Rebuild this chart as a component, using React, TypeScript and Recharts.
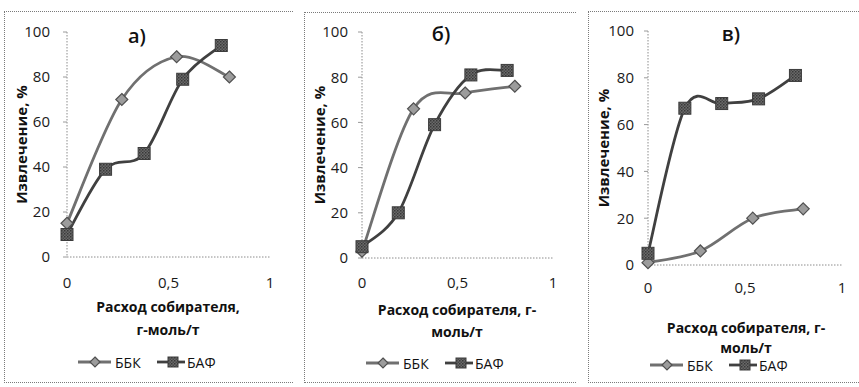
import React from 'react';
import { LineChart, Line, XAxis, YAxis } from 'recharts';

// Collector dosage, g-mol/t
const dosageBBK = [0, 0.27, 0.54, 0.8];
const dosageBAF = [0, 0.19, 0.38, 0.57, 0.76];

// Recovery, % — panel а)
const recoveryBBK_a = [15, 70, 89, 80];
const recoveryBAF_a = [10, 39, 46, 79, 94];
// panel б)
const recoveryBBK_b = [3, 66, 73, 76];
const recoveryBAF_b = [5, 20, 59, 81, 83];
// panel в)
const recoveryBBK_c = [1, 6, 20, 24];
const recoveryBAF_c = [5, 67, 69, 71, 81];

const xTicks = [0, 0.5, 1];
const yTicks = [0, 20, 40, 60, 80, 100];
const seriesNames = ['ББК', 'БАФ'];
const panelTitles = ['а)', 'б)', 'в)'];
const yTitle = 'Извлечение, %';
const xTitles: string[][] = [
  ['Расход собирателя,', 'г-моль/т'],
  ['Расход собирателя, г-', 'моль/т'],
  ['Расход собирателя, г-', 'моль/т'],
];

const FONT = '"Open Sans", "Liberation Sans", sans-serif';
const BBK_LINE = '#707070';
const BAF_LINE = '#404040';

const toPoints = (xs: number[], ys: number[]) => xs.map((x, i) => ({ x, y: ys[i] }));
const fmtX = (v: number) => String(v).replace('.', ',');

// Office-style smoothed line: cubic Bézier through every point,
// control handles taken from the neighbouring points (Catmull–Rom, 1/6).
const smoothCurve: any = (context: any) => {
  let pts: number[][] = [];
  return {
    areaStart() {},
    areaEnd() {},
    lineStart() {
      pts = [];
    },
    point(x: number, y: number) {
      pts.push([+x, +y]);
    },
    lineEnd() {
      const n = pts.length;
      if (!n) return;
      context.moveTo(pts[0][0], pts[0][1]);
      for (let i = 0; i < n - 1; i++) {
        const p0 = pts[i - 1] || pts[i];
        const p1 = pts[i];
        const p2 = pts[i + 1];
        const p3 = pts[i + 2] || pts[i + 1];
        context.bezierCurveTo(
          p1[0] + (p2[0] - p0[0]) / 6,
          p1[1] + (p2[1] - p0[1]) / 6,
          p2[0] - (p3[0] - p1[0]) / 6,
          p2[1] - (p3[1] - p1[1]) / 6,
          p2[0],
          p2[1]
        );
      }
    },
  };
};

const Diamond = ({ cx, cy, r = 6 }: { cx: number; cy: number; r?: number }) => (
  <path
    d={`M${cx},${cy - r}L${cx + r},${cy}L${cx},${cy + r}L${cx - r},${cy}Z`}
    fill="#9c9c9c"
    stroke="#505050"
    strokeWidth={1.2}
  />
);

const Square = ({ cx, cy, s = 12 }: { cx: number; cy: number; s?: number }) => (
  <rect
    x={cx - s / 2}
    y={cy - s / 2}
    width={s}
    height={s}
    fill="url(#bafTexture)"
    stroke="#3c3c3c"
    strokeWidth={1}
  />
);

const diamondDot = (p: any) => <Diamond key={`d-${p.index}`} cx={p.cx} cy={p.cy} />;
const squareDot = (p: any) => <Square key={`s-${p.index}`} cx={p.cx} cy={p.cy} />;

type PanelLayout = {
  box: { l: number; t: number; w: number; h: number };
  plot: { x0: number; x1: number; yTop: number; yBottom: number };
  yTickGap: number;
  xTickGap: number;
  title: { x: number; y: number };
  yTitleX: number;
  xTitle: { x: number; y1: number; y2: number };
  legend: { x: number; y: number };
};

const layouts: PanelLayout[] = [
  {
    box: { l: 4, t: 11, w: 289, h: 372 },
    plot: { x0: 67, x1: 270, yTop: 32, yBottom: 257 },
    yTickGap: 13,
    xTickGap: 16,
    title: { x: 137, y: 35 },
    yTitleX: 21,
    xTitle: { x: 168, y1: 306, y2: 329 },
    legend: { x: 152, y: 362 },
  },
  {
    box: { l: 304, t: 12, w: 272, h: 371 },
    plot: { x0: 362, x1: 553, yTop: 32, yBottom: 258 },
    yTickGap: 10,
    xTickGap: 15,
    title: { x: 441, y: 33 },
    yTitleX: 319,
    xTitle: { x: 457, y1: 309, y2: 331 },
    legend: { x: 440, y: 363 },
  },
  {
    box: { l: 588, t: 11, w: 271, h: 372 },
    plot: { x0: 648, x1: 842, yTop: 31, yBottom: 265 },
    yTickGap: 10,
    xTickGap: 13,
    title: { x: 731, y: 33 },
    yTitleX: 603,
    xTitle: { x: 746, y1: 327, y2: 347 },
    legend: { x: 724, y: 365 },
  },
];

const Panel = ({
  layout,
  bbk,
  baf,
}: {
  layout: PanelLayout;
  bbk: { x: number; y: number }[];
  baf: { x: number; y: number }[];
}) => {
  const { box, plot } = layout;
  const margin = {
    top: plot.yTop - box.t,
    right: box.l + box.w - plot.x1,
    left: 0,
    bottom: 0,
  };
  const axisStyle = { stroke: '#8c8c8c', strokeDasharray: '1.5 1.5', strokeWidth: 1 };
  const tickStyle = { fill: '#1a1a1a', fontSize: 15, fontFamily: FONT };
  return (
    <div
      style={{
        position: 'absolute',
        left: box.l,
        top: box.t,
        width: box.w,
        height: box.h,
        borderLeft: '1px dotted #7a7a7a',
        borderTop: '1px dotted #7a7a7a',
        borderBottom: '1px dotted #7a7a7a',
        boxSizing: 'border-box',
      }}
    >
      <LineChart
        width={box.w}
        height={box.h}
        margin={margin}
        style={{ position: 'absolute', left: -1, top: -1 }}
      >
        <XAxis
          type="number"
          dataKey="x"
          domain={[0, 1]}
          ticks={xTicks}
          tickFormatter={fmtX}
          height={box.t + box.h - plot.yBottom}
          axisLine={axisStyle}
          tickLine={false}
          tickSize={4}
          tickMargin={layout.xTickGap}
          tick={tickStyle}
          interval={0}
        />
        <YAxis
          type="number"
          domain={[0, 100]}
          ticks={yTicks}
          width={plot.x0 - box.l}
          axisLine={axisStyle}
          tickLine={{ stroke: '#9a9a9a' }}
          tickSize={4}
          tickMargin={layout.yTickGap}
          tick={tickStyle}
          interval={0}
        />
        <Line
          data={bbk}
          dataKey="y"
          name={seriesNames[0]}
          type={smoothCurve}
          stroke={BBK_LINE}
          strokeWidth={2.8}
          dot={diamondDot}
          activeDot={false}
          isAnimationActive={false}
        />
        <Line
          data={baf}
          dataKey="y"
          name={seriesNames[1]}
          type={smoothCurve}
          stroke={BAF_LINE}
          strokeWidth={2.8}
          dot={squareDot}
          activeDot={false}
          isAnimationActive={false}
        />
      </LineChart>
    </div>
  );
};

const Captions = ({ layout, index }: { layout: PanelLayout; index: number }) => {
  const { plot, title, yTitleX, xTitle, legend } = layout;
  const yMid = (plot.yTop + plot.yBottom) / 2;
  const lx = legend.x - 74;
  return (
    <g fontFamily={FONT} fill="#111111">
      <text x={title.x} y={title.y} fontSize={20} fontWeight={600} textAnchor="middle" dominantBaseline="central">
        {panelTitles[index]}
      </text>
      <text
        x={yTitleX}
        y={yMid}
        fontSize={15}
        fontWeight={700}
        textAnchor="middle"
        dominantBaseline="central"
        transform={`rotate(-90 ${yTitleX} ${yMid})`}
      >
        {yTitle}
      </text>
      <text x={xTitle.x} y={xTitle.y1} fontSize={14} fontWeight={700} textAnchor="middle" dominantBaseline="central">
        {xTitles[index][0]}
      </text>
      <text x={xTitle.x} y={xTitle.y2} fontSize={14} fontWeight={700} textAnchor="middle" dominantBaseline="central">
        {xTitles[index][1]}
      </text>
      {/* legend */}
      <line x1={lx} y1={legend.y} x2={lx + 33} y2={legend.y} stroke={BBK_LINE} strokeWidth={2.8} />
      <Diamond cx={lx + 17} cy={legend.y} r={5} />
      <text x={lx + 37} y={legend.y} fontSize={14} dominantBaseline="central">
        {seriesNames[0]}
      </text>
      <line x1={lx + 79} y1={legend.y} x2={lx + 107} y2={legend.y} stroke={BAF_LINE} strokeWidth={2.8} />
      <Square cx={lx + 95} cy={legend.y} s={10} />
      <text x={lx + 109} y={legend.y} fontSize={14} dominantBaseline="central">
        {seriesNames[1]}
      </text>
    </g>
  );
};

export default function App() {
  const panels = [
    [recoveryBBK_a, recoveryBAF_a],
    [recoveryBBK_b, recoveryBAF_b],
    [recoveryBBK_c, recoveryBAF_c],
  ];
  return (
    <div
      style={{
        position: 'absolute',
        left: 0,
        top: 0,
        width: 859,
        height: 387,
        background: '#ffffff',
        overflow: 'hidden',
      }}
    >
      <svg width={0} height={0} style={{ position: 'absolute' }}>
        <defs>
          <pattern id="bafTexture" width={3} height={3} patternUnits="userSpaceOnUse">
            <rect width={3} height={3} fill="#6a6a6a" />
            <rect width={1.5} height={1.5} fill="#383838" />
            <rect x={1.5} y={1.5} width={1.5} height={1.5} fill="#484848" />
          </pattern>
        </defs>
      </svg>
      {panels.map(([bbk, baf], i) => (
        <Panel
          key={i}
          layout={layouts[i]}
          bbk={toPoints(dosageBBK, bbk)}
          baf={toPoints(dosageBAF, baf)}
        />
      ))}
      <svg width={859} height={387} style={{ position: 'absolute', left: 0, top: 0, pointerEvents: 'none' }}>
        {layouts.map((l, i) => (
          <Captions key={i} layout={l} index={i} />
        ))}
      </svg>
    </div>
  );
}
